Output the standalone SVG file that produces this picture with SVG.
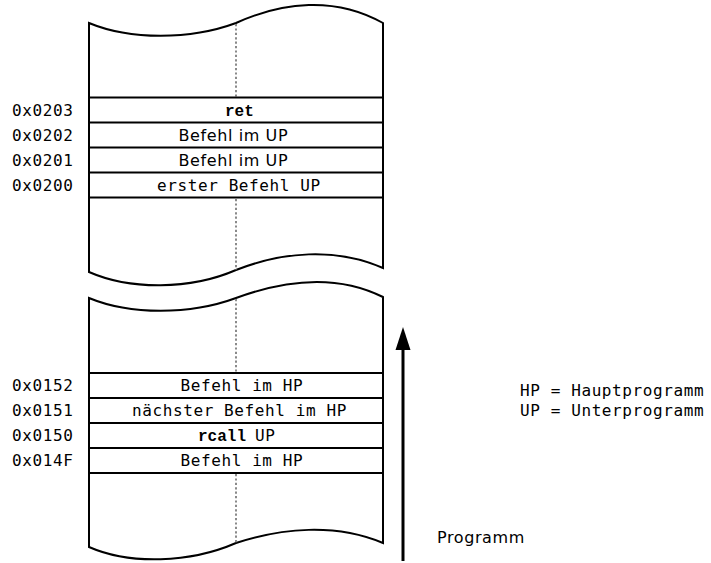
<svg xmlns="http://www.w3.org/2000/svg" width="711" height="563" viewBox="0 0 711 563">
<style>
.box{fill:#fff;stroke:#000;stroke-width:2;stroke-linejoin:miter}
.row{stroke:#000;stroke-width:2}
.dot{stroke:#8a8a8a;stroke-width:2;stroke-dasharray:2.2,2.2;fill:none}
.mono{font-family:"DejaVu Sans Mono",monospace;font-size:16px;letter-spacing:0.6px;fill:#000}
.sans{font-family:"DejaVu Sans",sans-serif;font-size:16px;letter-spacing:0.6px;fill:#000}
.code{font-family:"Liberation Mono","Courier New",monospace;font-size:16px;font-weight:bold;fill:#000}
</style>
<rect width="711" height="563" fill="#fff"/>
<g id="block-up">
<path class="box" d="M89,23 C130,40 190,40 236,23 C282,2 335,-4 383,23 L383,268 C335,247 282,252 236,270 C190,290 130,290 89,272 Z"/>
<line class="dot" x1="236" y1="24" x2="236" y2="97"/>
<line class="dot" x1="236" y1="199" x2="236" y2="270"/>
<line class="row" x1="89" y1="97.5" x2="383" y2="97.5"/>
<line class="row" x1="89" y1="122.5" x2="383" y2="122.5"/>
<line class="row" x1="89" y1="147.5" x2="383" y2="147.5"/>
<line class="row" x1="89" y1="172.5" x2="383" y2="172.5"/>
<line class="row" x1="89" y1="197.5" x2="383" y2="197.5"/>
</g>
<g id="block-hp">
<path class="box" d="M89,298 C130,315 190,315 236,298 C282,281 335,273 383,297 L383,543 C335,523 282,528 236,543 C190,563 130,565 89,547 Z"/>
<line class="dot" x1="236" y1="299" x2="236" y2="372"/>
<line class="dot" x1="236" y1="474" x2="236" y2="543"/>
<line class="row" x1="89" y1="373" x2="383" y2="373"/>
<line class="row" x1="89" y1="398" x2="383" y2="398"/>
<line class="row" x1="89" y1="423" x2="383" y2="423"/>
<line class="row" x1="89" y1="448" x2="383" y2="448"/>
<line class="row" x1="89" y1="473" x2="383" y2="473"/>
</g>
<g id="row-0203"><text class="mono" x="12" y="115.5">0x0203</text><text class="code" x="225" y="115.5">ret</text></g>
<g id="row-0202"><text class="mono" x="12" y="140.5">0x0202</text><text class="sans" x="178.5" y="140.5">Befehl im UP</text></g>
<g id="row-0201"><text class="mono" x="12" y="165.5">0x0201</text><text class="sans" x="178.5" y="165.5">Befehl im UP</text></g>
<g id="row-0200"><text class="mono" x="12" y="190.5">0x0200</text><text class="mono" x="157" y="190.5">erster Befehl UP</text></g>
<g id="row-0152"><text class="mono" x="12" y="391">0x0152</text><text class="mono" x="180.5" y="391">Befehl im HP</text></g>
<g id="row-0151"><text class="mono" x="12" y="416">0x0151</text><text class="mono" x="132" y="416">nächster Befehl im HP</text></g>
<g id="row-0150"><text class="mono" x="12" y="441">0x0150</text><text class="code" x="198" y="441">rcall</text><text class="mono" x="255" y="441">UP</text></g>
<g id="row-014F"><text class="mono" x="12" y="466">0x014F</text><text class="mono" x="180.5" y="466">Befehl im HP</text></g>
<g id="legend"><text class="mono" x="520" y="396">HP = Hauptprogramm</text><text class="mono" x="520" y="416">UP = Unterprogramm</text></g>
<g id="connectors">
<line x1="403" y1="346" x2="403" y2="561" stroke="#000" stroke-width="3"/>
<polygon points="403,327 410.5,350 395.5,350" fill="#000"/>
</g>
<g id="label-programm"><text class="sans" x="437" y="543">Programm</text></g>
</svg>
